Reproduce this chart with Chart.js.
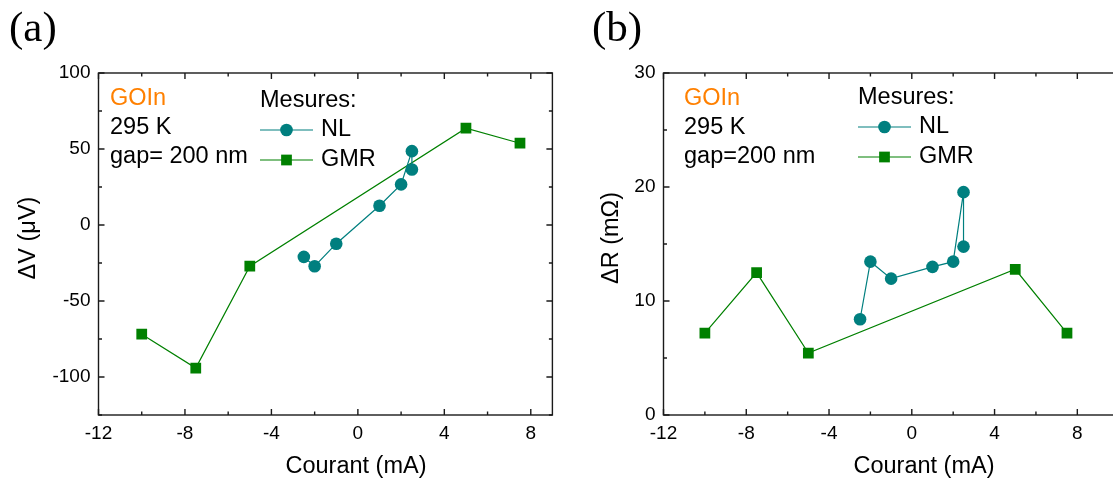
<!DOCTYPE html>
<html><head><meta charset="utf-8">
<script src="https://cdn.jsdelivr.net/npm/chart.js@4"></script>
<style>
html,body{margin:0;padding:0;background:#fff;overflow:hidden;width:1113px;height:480px;position:relative;}
#wa{position:absolute;left:0;top:0;width:560px;height:480px;}
#wb{position:absolute;left:560px;top:0;width:587px;height:480px;}
canvas{display:block;}
</style></head>
<body>
<div id="wa"><canvas id="ca" width="560" height="480"></canvas></div>
<div id="wb"><canvas id="cb" width="587" height="480"></canvas></div>
<script>
// ---- data ----
const nlCurrentA = [-2.5, -2, -1, 1, 2, 2.5, 2.5];
const nlDeltaV   = [-21.0, -27.1, -12.3, 12.7, 26.7, 48.6, 36.5];
const gmrCurrentA = [-10, -7.5, -5, 5, 7.5];
const gmrDeltaV   = [-71.8, -94.1, -27.1, 63.7, 53.8];

const nlCurrentB = [-2.5, -2, -1, 1, 2, 2.5, 2.5];
const nlDeltaR   = [8.4, 13.45, 11.96, 12.99, 13.45, 19.55, 14.77];
const gmrCurrentB = [-10, -7.5, -5, 5, 7.5];
const gmrDeltaR   = [7.18, 12.49, 5.43, 12.78, 7.18];

const xTickLabels = [-12, -8, -4, 0, 4, 8];
const yTickLabelsA = [-100, -50, 0, 50, 100];
const yTickLabelsB = [0, 10, 20, 30];

const NL_COLOR = '#007f7f';
const GMR_COLOR = '#008000';
const FONT = "'Liberation Sans', Arial, sans-serif";

function pts(xs, ys) { return xs.map((x, i) => ({x: x, y: ys[i]})); }

function minorVals(scale, step) {
  const out = [];
  for (let v = scale.min; v <= scale.max + 1e-9; v += step / 2) {
    const r = Math.round(v / step * 2);
    if (r % 2 !== 0) out.push(v);
  }
  return out;
}

const framePlugin = {
  id: 'frame',
  afterDraw(chart, args, o) {
    const {ctx, chartArea: a, scales: {x, y}} = chart;
    ctx.save();
    ctx.strokeStyle = '#1a1a1a';
    ctx.lineWidth = 1.4;
    ctx.strokeRect(a.left, a.top, a.right - a.left, a.bottom - a.top);
    const MJ = 6, MN = 3.5;
    ctx.beginPath();
    const xt = x.ticks.map(t => t.value);
    const yt = y.ticks.map(t => t.value);
    const tickX = (v, len) => { const p = x.getPixelForValue(v); ctx.moveTo(p, a.bottom); ctx.lineTo(p, a.bottom - len); ctx.moveTo(p, a.top); ctx.lineTo(p, a.top + len); };
    const tickY = (v, len) => { const p = y.getPixelForValue(v); ctx.moveTo(a.left, p); ctx.lineTo(a.left + len, p); ctx.moveTo(a.right, p); ctx.lineTo(a.right - len, p); };
    xt.forEach(v => tickX(v, MJ));
    minorVals(x, o.xStep).forEach(v => tickX(v, MN));
    yt.forEach(v => tickY(v, MJ));
    minorVals(y, o.yStep).forEach(v => tickY(v, MN));
    ctx.stroke();

    // panel letter
    ctx.fillStyle = '#000';
    ctx.font = "43px 'Liberation Serif', 'Times New Roman', serif";
    ctx.textBaseline = 'alphabetic';
    ctx.textAlign = 'left';
    ctx.fillText(o.letter, o.letterX, 41);

    // axis titles
    ctx.font = '23.5px ' + FONT;
    ctx.textAlign = 'center';
    ctx.textBaseline = 'middle';
    ctx.fillText('Courant (mA)', o.xTitleX, 467);
    ctx.save();
    ctx.translate(o.yTitleX, 238);
    ctx.rotate(-Math.PI / 2);
    ctx.fillText(o.yTitle, 0, 0);
    ctx.restore();

    // annotation
    ctx.font = '23.5px ' + FONT;
    ctx.textAlign = 'left';
    ctx.fillStyle = '#ff8000';
    ctx.fillText('GOIn', o.annX, o.annY[0]);
    ctx.fillStyle = '#000';
    ctx.fillText('295 K', o.annX, o.annY[1]);
    ctx.fillText(o.gapText, o.annX, o.annY[2]);

    // legend
    ctx.fillText('Mesures:', o.legX, o.legY[0]);
    const ds = chart.data.datasets;
    [1, 2].forEach(i => {
      const d = ds[i - 1];
      const yy = o.legY[i];
      ctx.strokeStyle = d.borderColor;
      ctx.lineWidth = 1.2;
      ctx.beginPath();
      ctx.moveTo(o.legX, yy); ctx.lineTo(o.legX + 53, yy);
      ctx.stroke();
      ctx.fillStyle = d.pointBackgroundColor;
      Chart.helpers.drawPoint(ctx, {pointStyle: d.pointStyle, radius: d.pointRadius, borderWidth: 0}, o.legX + 26.5, yy);
      ctx.fillStyle = '#000';
      ctx.fillText(d.label, o.legX + 61, yy);
    });
    ctx.restore();
  }
};

function makeChart(id, nl, gmr, xr, yr, yStep, fit, plug) {
  return new Chart(document.getElementById(id), {
    type: 'scatter',
    data: {
      datasets: [
        {label: 'NL', data: nl, showLine: true, borderColor: NL_COLOR, backgroundColor: NL_COLOR,
         pointBackgroundColor: NL_COLOR, pointBorderWidth: 0, borderWidth: 1.2, pointStyle: 'circle', pointRadius: 6.3},
        {label: 'GMR', data: gmr, showLine: true, borderColor: GMR_COLOR, backgroundColor: GMR_COLOR,
         pointBackgroundColor: GMR_COLOR, pointBorderWidth: 0, borderWidth: 1.2, pointStyle: 'rect', pointRadius: 7.6}
      ]
    },
    options: {
      responsive: false, animation: false,
      layout: {padding: {left: 0, top: fit.top, right: fit.right, bottom: 0}},
      plugins: {legend: {display: false}, tooltip: {enabled: false}, frame: plug},
      scales: {
        x: {type: 'linear', min: xr[0], max: xr[1],
            grid: {display: false, drawTicks: false}, border: {display: false},
            ticks: {stepSize: 4, includeBounds: false, padding: 7, color: '#000', font: {family: FONT, size: 19},
                    callback: v => xTickLabels.includes(v) ? String(v) : ''},
            afterFit: s => { s.height = fit.xh; }},
        y: {type: 'linear', min: yr[0], max: yr[1],
            grid: {display: false, drawTicks: false}, border: {display: false},
            ticks: {stepSize: yStep, includeBounds: false, padding: 8, color: '#000', font: {family: FONT, size: 19},
                    callback: v => v},
            afterFit: s => { s.width = fit.yw; }}
      }
    },
    plugins: [framePlugin]
  });
}

makeChart('ca', pts(nlCurrentA, nlDeltaV), pts(gmrCurrentA, gmrDeltaV),
  [-12, 9], [-125, 100], 50,
  {top: 73, right: 3, xh: 65, yw: 98.5},
  {xStep: 4, yStep: 50, letter: '(a)', letterX: 9, xTitleX: 356, yTitleX: 29, yTitle: 'ΔV (μV)',
   annX: 110, annY: [99, 128, 157], gapText: 'gap= 200 nm', legX: 260, legY: [101, 130, 160]});

makeChart('cb', pts(nlCurrentB, nlDeltaR), pts(gmrCurrentB, gmrDeltaR),
  [-12, 11], [0, 30], 10,
  {top: 73, right: 2.5, xh: 65, yw: 103.5},
  {xStep: 4, yStep: 10, letter: '(b)', letterX: 32, xTitleX: 364, yTitleX: 52, yTitle: 'ΔR (mΩ)',
   annX: 124, annY: [99, 128, 157], gapText: 'gap=200 nm', legX: 298, legY: [98, 127, 157]});
</script>
</body></html>
